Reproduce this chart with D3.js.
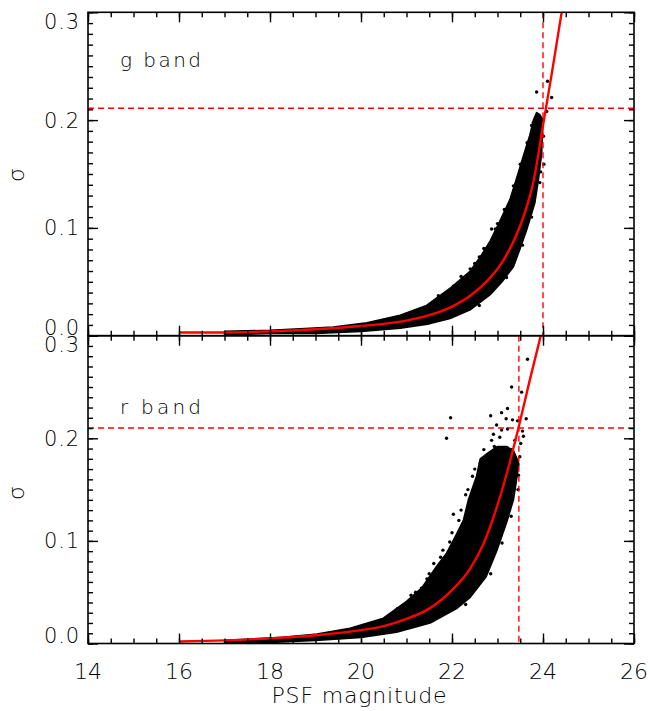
<!DOCTYPE html>
<html><head><meta charset="utf-8">
<script src="https://cdn.jsdelivr.net/npm/d3@7"></script>
<style>
body{margin:0;background:#fff}
text{font-family:"DejaVu Sans","Liberation Sans",Arial,sans-serif;font-weight:200;fill:#000}
</style>
</head><body>
<svg id="chart" width="650" height="711"></svg>
<script>
// ---- tick labels / categories ----
const xTicks = [14, 16, 18, 20, 22, 24, 26];
const yTicks = [0.0, 0.1, 0.2, 0.3];
const bandNames = ["g band", "r band"];
const xTitle = "PSF magnitude";
const yTitle = "σ";

// ---- g band: fitted curve (mag, sigma) ----
const gCurveMag = [16, 17, 18, 19, 20, 20.5, 21, 21.5, 22, 22.4, 22.8, 23.1, 23.4, 23.6, 23.8, 24.0, 24.2, 24.41];
const gCurveSig = [0.003, 0.003, 0.004, 0.006, 0.009, 0.011, 0.014, 0.019, 0.027, 0.037, 0.052, 0.068, 0.092, 0.114, 0.145, 0.195, 0.245, 0.30];
// g band: scatter envelope (upper/left edge and lower/right edge)
const gUpperMag = [17.0, 18.0, 18.66, 19.39, 20.13, 20.86, 21.44, 21.96, 22.40, 22.62, 22.84, 23.05, 23.27, 23.42, 23.57, 23.71, 23.79, 23.86];
const gUpperSig = [0.004, 0.005, 0.0065, 0.008, 0.012, 0.019, 0.028, 0.044, 0.060, 0.073, 0.088, 0.106, 0.126, 0.146, 0.167, 0.186, 0.200, 0.207];
const gLowerMag = [17.0, 18.0, 19.0, 20.0, 20.86, 21.5, 21.96, 22.4, 22.84, 23.1, 23.35, 23.49, 23.64, 23.82, 23.90, 23.97, 24.0, 23.93];
const gLowerSig = [0.001, 0.002, 0.002, 0.004, 0.007, 0.011, 0.016, 0.024, 0.038, 0.050, 0.064, 0.080, 0.098, 0.123, 0.145, 0.169, 0.200, 0.205];
// g band: isolated points (outliers and ragged edge points)
const gDotMag = [23.86, 24.10, 24.19, 24.08, 24.02, 22.87, 23.93, 23.79, 22.03, 22.40, 21.33, 23.0, 22.6,
                 21.7, 22.2, 22.5, 22.7, 22.95, 23.15, 23.35, 23.5, 23.65, 23.75, 22.6, 23.2, 23.55, 23.75, 23.95, 24.01];
const gDotSig = [0.226, 0.236, 0.221, 0.208, 0.159, 0.099, 0.142, 0.198, 0.046, 0.062, 0.024, 0.104, 0.073,
                 0.037, 0.055, 0.067, 0.081, 0.099, 0.117, 0.139, 0.159, 0.179, 0.195, 0.028, 0.054, 0.084, 0.110, 0.152, 0.185];
// g band limits
const gLimitMag = 24.0;
const gLimitSig = 0.211;

// ---- r band: fitted curve ----
const rCurveMag = [16, 17, 18, 19, 20, 20.5, 21, 21.5, 22, 22.4, 22.7, 23.0, 23.2, 23.46, 23.7, 23.95];
const rCurveSig = [0.002, 0.003, 0.005, 0.008, 0.013, 0.017, 0.024, 0.034, 0.052, 0.073, 0.098, 0.135, 0.165, 0.21, 0.255, 0.30];
// r band: scatter envelope
const rUpperMag = [17.0, 18.29, 19.03, 19.76, 20.49, 21.0, 21.33, 21.66, 21.88, 22.07, 22.25, 22.36, 22.54, 22.62, 22.80, 23.0, 23.2, 23.35, 23.45];
const rUpperSig = [0.003, 0.006, 0.0093, 0.0148, 0.0246, 0.041, 0.054, 0.075, 0.088, 0.104, 0.120, 0.140, 0.163, 0.180, 0.186, 0.192, 0.192, 0.188, 0.178];
const rLowerMag = [17.0, 18.0, 19.0, 20.0, 20.78, 21.52, 22.1, 22.4, 22.75, 22.98, 23.2, 23.35, 23.42, 23.47];
const rLowerSig = [0.000, 0.001, 0.003, 0.006, 0.011, 0.020, 0.034, 0.045, 0.065, 0.090, 0.118, 0.140, 0.160, 0.175];
// r band: isolated points
const rDotMag = [23.66, 23.31, 23.53, 21.97, 21.88, 22.85, 23.09, 23.22, 23.19, 22.98, 23.33, 23.44, 23.63, 23.09, 23.22, 23.55, 23.57, 22.91, 22.87, 23.05, 23.38, 23.51, 22.93, 23.31, 23.49, 22.62, 22.78, 22.58, 23.38, 23.46, 22.03, 21.33, 21.75, 21.95, 22.15, 22.30, 22.45, 21.20, 21.50,
                 20.8, 21.1, 21.45, 21.6, 21.8, 22.0, 22.2, 22.35, 22.5, 22.7, 22.3, 22.85, 23.1, 23.3, 23.45];
const rDotSig = [0.277, 0.250, 0.245, 0.220, 0.200, 0.222, 0.225, 0.229, 0.219, 0.213, 0.218, 0.217, 0.219, 0.208, 0.209, 0.207, 0.202, 0.204, 0.198, 0.201, 0.198, 0.195, 0.192, 0.189, 0.182, 0.176, 0.184, 0.164, 0.172, 0.164, 0.126, 0.054, 0.084, 0.099, 0.120, 0.145, 0.163, 0.050, 0.068,
                 0.034, 0.047, 0.063, 0.078, 0.091, 0.108, 0.130, 0.150, 0.170, 0.189, 0.038, 0.068, 0.098, 0.124, 0.150];
const rLimitMag = 23.47;
const rLimitSig = 0.210;

// ---- layout ----
const svg = d3.select("#chart");
const left = 88, right = 634;
const x = d3.scaleLinear().domain([14, 26]).range([left, right]);

const panels = [
  {name: bandNames[0], top: 12.3, bottom: 335.7,
   cm: gCurveMag, cs: gCurveSig, um: gUpperMag, us: gUpperSig, lm: gLowerMag, ls: gLowerSig,
   dm: gDotMag, ds: gDotSig, limM: gLimitMag, limS: gLimitSig, labelY: 66.5, sigY: 175},
  {name: bandNames[1], top: 335.7, bottom: 643.5,
   cm: rCurveMag, cs: rCurveSig, um: rUpperMag, us: rUpperSig, lm: rLowerMag, ls: rLowerSig,
   dm: rDotMag, ds: rDotSig, limM: rLimitMag, limS: rLimitSig, labelY: 413.5, sigY: 493}
];

const xMinor = d3.range(14, 26.001, 0.5);
const yMinor = d3.range(0, 0.3001, 0.01);

panels.forEach((p, i) => {
  const y = d3.scaleLinear().domain([0, 0.3]).range([p.bottom, p.top]);
  const clipId = "clip" + i;
  svg.append("clipPath").attr("id", clipId).append("rect")
    .attr("x", left).attr("y", p.top).attr("width", right - left).attr("height", p.bottom - p.top);
  const g = svg.append("g").attr("clip-path", `url(#${clipId})`);

  // scatter envelope polygon
  const upper = p.um.map((m, k) => [m, p.us[k]]);
  const lower = p.lm.map((m, k) => [m, p.ls[k]]).reverse();
  const poly = upper.concat(lower);
  g.append("path")
    .attr("d", d3.line().x(d => x(d[0])).y(d => y(d[1])).curve(d3.curveLinearClosed)(poly))
    .attr("fill", "#000").attr("stroke", "#000").attr("stroke-width", 1.6).attr("stroke-linejoin", "round");

  // isolated points
  g.selectAll("circle.pt").data(p.dm.map((m, k) => [m, p.ds[k]])).enter().append("circle")
    .attr("class", "pt").attr("cx", d => x(d[0])).attr("cy", d => y(d[1])).attr("r", 1.7).attr("fill", "#000");

  // fitted curve
  g.append("path")
    .attr("d", d3.line().x(d => x(d[0])).y(d => y(d[1])).curve(d3.curveMonotoneX)(p.cm.map((m, k) => [m, p.cs[k]])))
    .attr("fill", "none").attr("stroke", "#ff0000").attr("stroke-width", 2.4);

  // dashed limits
  g.append("line").attr("x1", left).attr("x2", right).attr("y1", y(p.limS)).attr("y2", y(p.limS))
    .attr("stroke", "#ff0000").attr("stroke-width", 1.4).attr("stroke-dasharray", "6,4");
  g.append("line").attr("x1", x(p.limM)).attr("x2", x(p.limM)).attr("y1", p.top).attr("y2", p.bottom)
    .attr("stroke", "#ff0000").attr("stroke-width", 1.4).attr("stroke-dasharray", "6,4");

  // ticks (inward on all sides)
  const addAxis = (axis, tx, ty) => {
    const a = svg.append("g").attr("transform", `translate(${tx},${ty})`).call(axis);
    a.select(".domain").remove();
    a.selectAll("text").remove();
    a.selectAll("line").attr("stroke", "#000").attr("stroke-width", 1.4);
  };
  addAxis(d3.axisBottom(x).tickValues(xTicks).tickSize(-10), 0, p.bottom);
  addAxis(d3.axisBottom(x).tickValues(xMinor).tickSize(-5), 0, p.bottom);
  addAxis(d3.axisTop(x).tickValues(xTicks).tickSize(-10), 0, p.top);
  addAxis(d3.axisTop(x).tickValues(xMinor).tickSize(-5), 0, p.top);
  addAxis(d3.axisLeft(y).tickValues(yTicks).tickSize(-10), left, 0);
  addAxis(d3.axisLeft(y).tickValues(yMinor).tickSize(-5), left, 0);
  addAxis(d3.axisRight(y).tickValues(yTicks).tickSize(-10), right, 0);
  addAxis(d3.axisRight(y).tickValues(yMinor).tickSize(-5), right, 0);

  // frame
  svg.append("rect").attr("x", left).attr("y", p.top).attr("width", right - left).attr("height", p.bottom - p.top)
    .attr("fill", "none").attr("stroke", "#000").attr("stroke-width", 1.6);

  // y tick labels
  svg.selectAll(null).data(yTicks).enter().append("text")
    .attr("x", 79).attr("y", d => y(d) + (d === 0 ? -8 : (d >= 0.3 ? 9 : 0)))
    .attr("dy", "0.36em").attr("text-anchor", "end")
    .attr("font-size", 21).attr("textLength", 35).attr("lengthAdjust", "spacing")
    .text(d => d3.format(".1f")(d));

  // band label
  svg.append("text").attr("x", 120).attr("y", p.labelY).attr("font-size", 20)
    .attr("textLength", 81).attr("lengthAdjust", "spacing")
    .text(p.name);

  // sigma axis title
  svg.append("text").attr("transform", `translate(24,${p.sigY}) rotate(-90)`)
    .attr("text-anchor", "middle").attr("font-size", 22).attr("font-weight", 400).text(yTitle);
});

// x tick labels
svg.selectAll(null).data(xTicks).enter().append("text")
  .attr("x", d => x(d)).attr("y", 679).attr("text-anchor", "middle")
  .attr("font-size", 22).text(d => d);

svg.append("text").attr("x", 359).attr("y", 703).attr("text-anchor", "middle")
  .attr("font-size", 22).attr("textLength", 175).attr("lengthAdjust", "spacing").text(xTitle);
</script>
</body></html>
